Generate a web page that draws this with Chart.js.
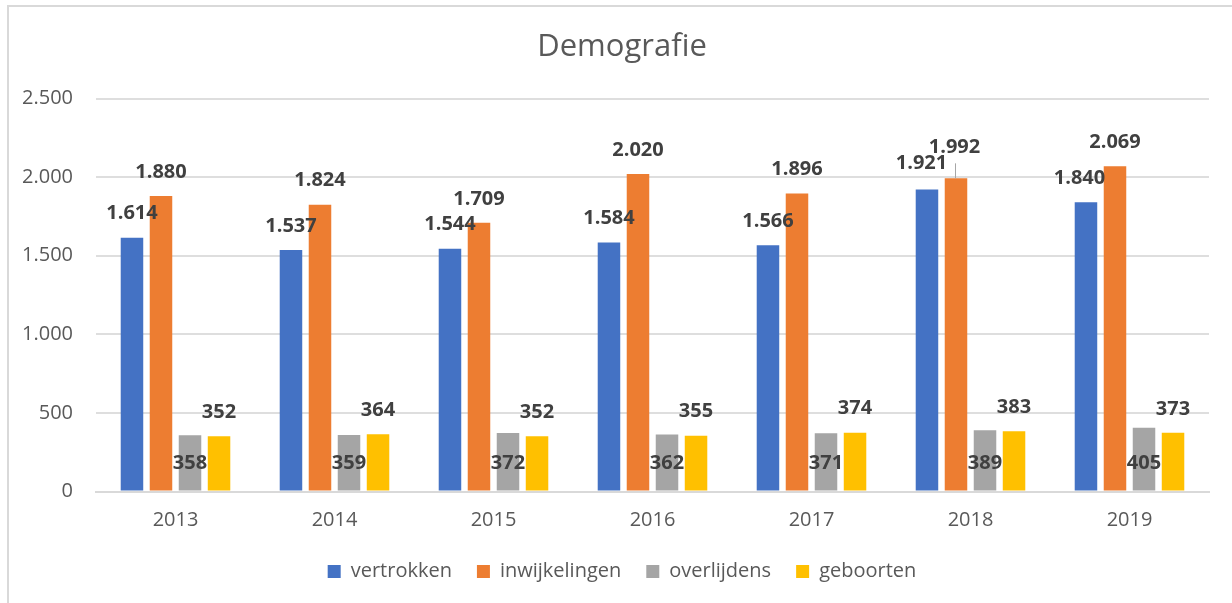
<!DOCTYPE html>
<html>
<head>
<meta charset="utf-8">
<script src="https://cdn.jsdelivr.net/npm/chart.js@4"></script>
<style>
html,body{margin:0;padding:0;background:#fff;}
canvas{display:block;}
</style>
</head>
<body>
<canvas id="c" width="1232" height="603"></canvas>
<script>
const categories = ['2013','2014','2015','2016','2017','2018','2019'];
const vertrokken = [1614,1537,1544,1584,1566,1921,1840];
const inwijkelingen = [1880,1824,1709,2020,1896,1992,2069];
const overlijdens = [358,359,372,362,371,389,405];
const geboorten = [352,364,352,355,374,383,373];
const seriesNames = ['vertrokken','inwijkelingen','overlijdens','geboorten'];
const yTicks = [0,500,1000,1500,2000,2500];

const colors = ['#4472C4','#ED7D31','#A5A5A5','#FFC000'];
const FONT = '"Open Sans", "Noto Sans", sans-serif';

function fmt(n){
  if (n >= 1000) return Math.floor(n/1000) + '.' + String(n % 1000).padStart(3,'0');
  return String(n);
}

// label placement tweaks (dataset-index : point-index)
const labelTweaks = {
  '0-5': {dx:-5.5, dy:-26.5},
  '1-5': {dx:-1.5, dy:-31, leader:true},
  '0-6': {dx:-6.5, dy:-24}
};

const frame = {
  id:'frame',
  beforeDraw(chart){
    // let the y tick labels extend left of the axis box
    if (chart.scales.y) chart.scales.y._computeLabelArea = () => undefined;
    const ctx = chart.ctx;
    ctx.save();
    ctx.fillStyle = '#fff';
    ctx.fillRect(0,0,chart.width,chart.height);
    ctx.strokeStyle = '#d9d9d9';
    ctx.lineWidth = 2;
    ctx.beginPath();
    ctx.moveTo(8, chart.height);
    ctx.lineTo(8, 6);
    ctx.lineTo(chart.width, 6);
    ctx.stroke();
    ctx.restore();
  }
};

const labels = {
  id:'valueLabels',
  afterDatasetsDraw(chart){
    const ctx = chart.ctx;
    ctx.save();
    ctx.font = 'bold 20px ' + FONT;
    ctx.fillStyle = '#404040';
    ctx.textAlign = 'center';
    ctx.textBaseline = 'middle';
    chart.data.datasets.forEach((ds, di) => {
      const meta = chart.getDatasetMeta(di);
      meta.data.forEach((el, i) => {
        const v = ds.data[i];
        const t = labelTweaks[di + '-' + i];
        let x = el.x, y;
        if (di === 2) {
          y = el.base - 27;
        } else {
          y = el.y + (t ? t.dy : -24);
          if (t) x += t.dx;
        }
        if (t && t.leader) {
          ctx.save();
          ctx.strokeStyle = '#a6a6a6';
          ctx.lineWidth = 1;
          ctx.beginPath();
          ctx.moveTo(Math.round(el.x) - 0.5, y + 16);
          ctx.lineTo(Math.round(el.x) - 0.5, el.y);
          ctx.stroke();
          ctx.restore();
        }
        ctx.fillText(fmt(v), x, y);
      });
    });
    ctx.restore();
  }
};

const seriesData = [vertrokken, inwijkelingen, overlijdens, geboorten];

new Chart(document.getElementById('c'), {
  type:'bar',
  data:{
    labels: categories,
    datasets: seriesNames.map((n, k) => ({
      label: n,
      data: seriesData[k],
      backgroundColor: colors[k],
      borderWidth: 0,
      categoryPercentage: 0.73,
      barPercentage: 0.776
    }))
  },
  options:{
    responsive:false,
    animation:false,
    devicePixelRatio:1,
    layout:{padding:{left:35, right:23, top:0, bottom:11.5}},
    plugins:{
      tooltip:{enabled:false},
      title:{
        display:true,
        text:'Demografie',
        color:'#595959',
        font:{family:FONT, size:31, weight:'normal'},
        padding:{top:28.5, bottom:32.8}
      },
      legend:{
        position:'bottom',
        labels:{
          color:'#595959',
          font:{family:FONT, size:20},
          boxWidth:13,
          boxHeight:13,
          padding:25
        }
      }
    },
    scales:{
      x:{
        afterFit(s){ s.height = 45; },
        grid:{display:false, drawTicks:false},
        border:{display:true, color:'#d9d9d9', width:2},
        ticks:{color:'#595959', font:{family:FONT, size:20}, padding:17}
      },
      y:{
        min:0, max:2500,
        afterFit(s){ s.width = 61; },
        afterBuildTicks(s){ s.ticks = yTicks.map(v => ({value:v})); },
        grid:{color:'#dedede', lineWidth:2, drawTicks:false},
        border:{display:false},
        ticks:{color:'#595959', font:{family:FONT, size:20}, padding:23,
          callback:(v) => fmt(v)}
      }
    }
  },
  plugins:[frame, labels]
});
</script>
</body>
</html>
